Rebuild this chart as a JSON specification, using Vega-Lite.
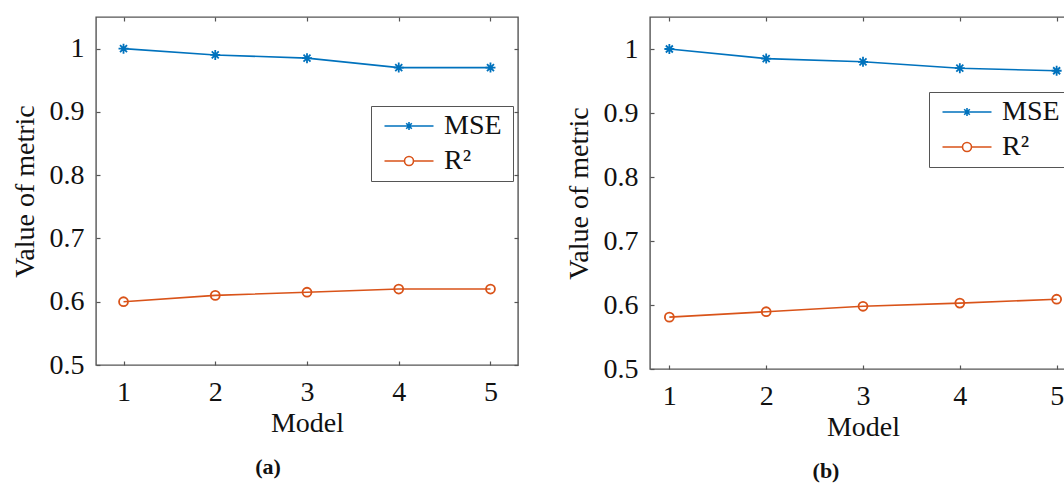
{
  "$schema": "https://vega.github.io/schema/vega-lite/v6.json",
  "padding": {"left": 10, "top": 15, "right": 0, "bottom": 0},
  "spacing": 44,
  "resolve": {"scale": {"color": "independent"}, "legend": {"color": "independent"}},
  "datasets": {
    "a": [
      {"model": 1, "series": "MSE", "value": 1.0},
      {"model": 2, "series": "MSE", "value": 0.99},
      {"model": 3, "series": "MSE", "value": 0.985},
      {"model": 4, "series": "MSE", "value": 0.97},
      {"model": 5, "series": "MSE", "value": 0.97},
      {"model": 1, "series": "R²", "value": 0.6},
      {"model": 2, "series": "R²", "value": 0.61},
      {"model": 3, "series": "R²", "value": 0.615},
      {"model": 4, "series": "R²", "value": 0.62},
      {"model": 5, "series": "R²", "value": 0.62}
    ],
    "b": [
      {"model": 1, "series": "MSE", "value": 1.0},
      {"model": 2, "series": "MSE", "value": 0.985},
      {"model": 3, "series": "MSE", "value": 0.98},
      {"model": 4, "series": "MSE", "value": 0.97},
      {"model": 5, "series": "MSE", "value": 0.966},
      {"model": 1, "series": "R²", "value": 0.581},
      {"model": 2, "series": "R²", "value": 0.5895},
      {"model": 3, "series": "R²", "value": 0.598},
      {"model": 4, "series": "R²", "value": 0.603},
      {"model": 5, "series": "R²", "value": 0.609}
    ]
  },
  "config": {
    "font": "Liberation Serif",
    "view": {"stroke": "#555555", "strokeWidth": 1.4},
    "axis": {
      "domain": false, "grid": false,
      "labelFont": "Liberation Serif", "labelFontSize": 28, "labelColor": "#111111",
      "titleFont": "Liberation Serif", "titleFontSize": 28, "titleFontWeight": "normal", "titleColor": "#111111",
      "tickColor": "#555555", "tickSize": -4, "tickWidth": 1.2
    },
    "axisX": {"labelPadding": 17, "titlePadding": 3},
    "axisY": {"labelPadding": 16, "titlePadding": 10},
    "legend": {
      "orient": "none",
      "labelFont": "Liberation Serif", "labelFontSize": 28, "labelColor": "#111111",
      "titleFont": "Liberation Serif", "titleFontSize": 4.5, "titleOpacity": 0, "titleOrient": "right", "titlePadding": 0,
      "fillColor": "white", "strokeColor": "#555555", "padding": 6,
      "symbolSize": 400, "symbolStrokeWidth": 1.5, "symbolOffset": 18, "labelOffset": 21, "rowPadding": 7
    },
    "title": {"font": "Liberation Serif", "fontSize": 22, "fontWeight": "bold", "color": "#111111", "orient": "bottom", "offset": 20}
  },
  "hconcat": [
    {
      "width": 422, "height": 348,
      "title": {"text": "(a)", "dx": -39},
      "data": {"name": "a"},
      "layer": [
        {
          "mark": {"type": "line", "strokeWidth": 1.6},
          "encoding": {
            "x": {"field": "model", "type": "quantitative", "scale": {"domain": [0.7, 5.3], "nice": false, "zero": false},
                  "axis": {"values": [1, 2, 3, 4, 5], "title": "Model"}},
            "y": {"field": "value", "type": "quantitative", "scale": {"domain": [0.5, 1.05], "nice": false, "zero": false},
                  "axis": {"values": [0.5, 0.6, 0.7, 0.8, 0.9, 1], "format": ".1~f", "title": "Value of metric"}},
            "color": {"field": "series", "type": "nominal",
                      "scale": {"domain": ["MSE", "R²"], "range": ["#0072BD", "#D95319"]},
                      "legend": {"title": "M", "legendX": 275, "legendY": 89,
                        "encode": {"symbols": {"update": {
                          "shape": {"signal": "datum.label === 'MSE' ? 'M-2.45,0H2.45M-0.4,0H0.4M0,-0.4V0.4M-0.28,-0.28L0.28,0.28M-0.28,0.28L0.28,-0.28' : 'M-2.45,0H-0.45M0.45,0H2.45M0.45,0A0.45,0.45,0,1,1,-0.45,0A0.45,0.45,0,1,1,0.45,0'"},
                          "fill": {"value": "transparent"}, "strokeWidth": {"value": 1.6}}}}}}
          }
        },
        {
          "transform": [{"filter": "datum.series === 'MSE'"}],
          "mark": {"type": "point", "shape": "M-1,0H1M0,-1V1M-0.7,-0.7L0.7,0.7M-0.7,0.7L0.7,-0.7", "size": 100, "filled": false, "stroke": "#0072BD", "strokeWidth": 1.8, "opacity": 1},
          "encoding": {
            "x": {"field": "model", "type": "quantitative", "axis": null},
            "y": {"field": "value", "type": "quantitative", "axis": null}
          }
        },
        {
          "transform": [{"filter": "datum.series === 'R²'"}],
          "mark": {"type": "point", "shape": "circle", "size": 80, "filled": false, "stroke": "#D95319", "strokeWidth": 1.8, "opacity": 1},
          "encoding": {
            "x": {"field": "model", "type": "quantitative", "axis": null},
            "y": {"field": "value", "type": "quantitative", "axis": null}
          }
        },
        {
          "mark": {"type": "point", "opacity": 0},
          "encoding": {
            "x": {"field": "model", "type": "quantitative", "axis": {"orient": "top", "values": [1, 2, 3, 4, 5], "labels": false, "title": null}},
            "y": {"field": "value", "type": "quantitative", "axis": {"orient": "right", "values": [0.5, 0.6, 0.7, 0.8, 0.9, 1], "labels": false, "title": null}}
          }
        }
      ],
      "resolve": {"axis": {"x": "independent", "y": "independent"}}
    },
    {
      "width": 426, "height": 352,
      "title": {"text": "(b)", "dx": -37},
      "data": {"name": "b"},
      "layer": [
        {
          "mark": {"type": "line", "strokeWidth": 1.6},
          "encoding": {
            "x": {"field": "model", "type": "quantitative", "scale": {"domain": [0.8, 5.2], "nice": false, "zero": false},
                  "axis": {"values": [1, 2, 3, 4, 5], "title": "Model"}},
            "y": {"field": "value", "type": "quantitative", "scale": {"domain": [0.5, 1.05], "nice": false, "zero": false},
                  "axis": {"values": [0.5, 0.6, 0.7, 0.8, 0.9, 1], "format": ".1~f", "title": "Value of metric"}},
            "color": {"field": "series", "type": "nominal",
                      "scale": {"domain": ["MSE", "R²"], "range": ["#0072BD", "#D95319"]},
                      "legend": {"title": "M", "legendX": 279, "legendY": 75,
                        "encode": {"symbols": {"update": {
                          "shape": {"signal": "datum.label === 'MSE' ? 'M-2.45,0H2.45M-0.4,0H0.4M0,-0.4V0.4M-0.28,-0.28L0.28,0.28M-0.28,0.28L0.28,-0.28' : 'M-2.45,0H-0.45M0.45,0H2.45M0.45,0A0.45,0.45,0,1,1,-0.45,0A0.45,0.45,0,1,1,0.45,0'"},
                          "fill": {"value": "transparent"}, "strokeWidth": {"value": 1.6}}}}}}
          }
        },
        {
          "transform": [{"filter": "datum.series === 'MSE'"}],
          "mark": {"type": "point", "shape": "M-1,0H1M0,-1V1M-0.7,-0.7L0.7,0.7M-0.7,0.7L0.7,-0.7", "size": 100, "filled": false, "stroke": "#0072BD", "strokeWidth": 1.8, "opacity": 1},
          "encoding": {
            "x": {"field": "model", "type": "quantitative", "axis": null},
            "y": {"field": "value", "type": "quantitative", "axis": null}
          }
        },
        {
          "transform": [{"filter": "datum.series === 'R²'"}],
          "mark": {"type": "point", "shape": "circle", "size": 80, "filled": false, "stroke": "#D95319", "strokeWidth": 1.8, "opacity": 1},
          "encoding": {
            "x": {"field": "model", "type": "quantitative", "axis": null},
            "y": {"field": "value", "type": "quantitative", "axis": null}
          }
        },
        {
          "mark": {"type": "point", "opacity": 0},
          "encoding": {
            "x": {"field": "model", "type": "quantitative", "axis": {"orient": "top", "values": [1, 2, 3, 4, 5], "labels": false, "title": null}},
            "y": {"field": "value", "type": "quantitative", "axis": {"orient": "right", "values": [0.5, 0.6, 0.7, 0.8, 0.9, 1], "labels": false, "title": null}}
          }
        }
      ],
      "resolve": {"axis": {"x": "independent", "y": "independent"}}
    }
  ]
}
